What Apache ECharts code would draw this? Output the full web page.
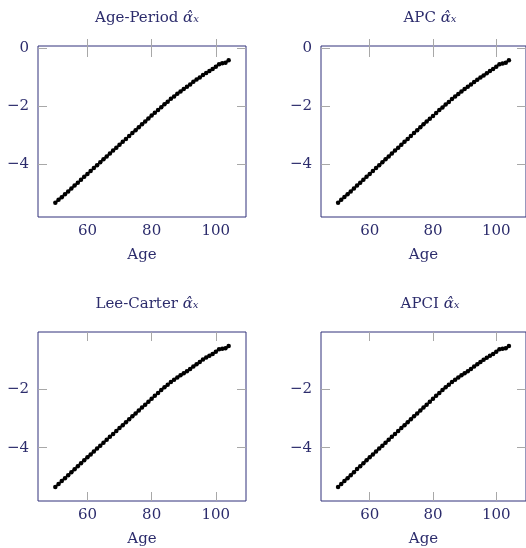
<!DOCTYPE html>
<html>
<head>
<meta charset="utf-8">
<script src="https://cdn.jsdelivr.net/npm/echarts@6/dist/echarts.min.js"></script>
<style>
html,body{margin:0;padding:0;background:#fff;}
#c{width:526px;height:548px;}
</style>
</head>
<body>
<div id="c"></div>
<script>
// ---- data ----
const ages = [50,51,52,53,54,55,56,57,58,59,60,61,62,63,64,65,66,67,68,69,70,71,72,73,74,75,76,77,78,79,80,81,82,83,84,85,86,87,88,89,90,91,92,93,94,95,96,97,98,99,100,101,102,103,104];

const ageperiodAlpha = [-5.31,-5.21,-5.12,-5.02,-4.92,-4.82,-4.72,-4.62,-4.52,-4.42,
  -4.32,-4.22,-4.12,-4.02,-3.92,-3.82,-3.72,-3.62,-3.52,-3.42,
  -3.32,-3.22,-3.12,-3.02,-2.92,-2.82,-2.72,-2.62,-2.52,-2.42,
  -2.32,-2.22,-2.13,-2.03,-1.93,-1.84,-1.74,-1.66,-1.57,-1.49,
  -1.41,-1.33,-1.25,-1.16,-1.08,-1.01,-0.93,-0.86,-0.79,-0.72,
  -0.64,-0.56,-0.52,-0.51,-0.42];

const apcAlpha = [-5.31,-5.21,-5.11,-5.02,-4.92,-4.82,-4.72,-4.62,-4.52,-4.42,
  -4.32,-4.22,-4.12,-4.02,-3.92,-3.82,-3.72,-3.62,-3.52,-3.42,
  -3.32,-3.22,-3.12,-3.02,-2.92,-2.82,-2.72,-2.62,-2.52,-2.43,
  -2.33,-2.23,-2.13,-2.04,-1.94,-1.85,-1.75,-1.66,-1.58,-1.49,
  -1.41,-1.33,-1.25,-1.17,-1.09,-1.01,-0.94,-0.87,-0.79,-0.72,
  -0.64,-0.56,-0.53,-0.51,-0.42];

const leecarterAlpha = [-5.34,-5.24,-5.14,-5.04,-4.94,-4.84,-4.74,-4.63,-4.53,-4.43,
  -4.33,-4.23,-4.13,-4.03,-3.93,-3.83,-3.73,-3.63,-3.53,-3.43,
  -3.33,-3.23,-3.13,-3.03,-2.93,-2.83,-2.73,-2.63,-2.53,-2.43,
  -2.33,-2.23,-2.13,-2.03,-1.94,-1.85,-1.76,-1.68,-1.60,-1.53,
  -1.46,-1.39,-1.31,-1.23,-1.15,-1.07,-0.99,-0.92,-0.86,-0.80,
  -0.72,-0.64,-0.62,-0.60,-0.53];

const apciAlpha = [-5.34,-5.24,-5.14,-5.04,-4.94,-4.84,-4.73,-4.63,-4.53,-4.43,
  -4.33,-4.23,-4.13,-4.03,-3.93,-3.83,-3.73,-3.63,-3.53,-3.43,
  -3.33,-3.23,-3.13,-3.03,-2.93,-2.83,-2.73,-2.63,-2.53,-2.43,
  -2.33,-2.23,-2.13,-2.03,-1.94,-1.85,-1.76,-1.68,-1.60,-1.53,
  -1.46,-1.39,-1.31,-1.23,-1.15,-1.07,-1.00,-0.93,-0.86,-0.80,
  -0.72,-0.64,-0.62,-0.60,-0.53];

const panelTitles = ['Age-Period', 'APC', 'Lee-Carter', 'APCI'];
const panelData = [ageperiodAlpha, apcAlpha, leecarterAlpha, apciAlpha];
const xTicks = [60, 80, 100];
const yTicks = [-4, -2, 0];
const xName = 'Age';

// ---- layout / style ----
const TXT = '#2c2c6c';
const BORDER = '#30307a';
const TICK = '#a8a8a8';
const FONT = 'DejaVu Serif';
const grids = [
  {left: 38, top: 46, width: 208, height: 171},
  {left: 321, top: 46, width: 208, height: 171},
  {left: 38, top: 332, width: 208, height: 171},
  {left: 321, top: 332, width: 208, height: 171}
];
const titleY = [5, 5, 291, 291];

function fmt(v){ return String(v).replace('-', '\u2212'); }

const option = {
  animation: false,
  backgroundColor: '#fff',
  title: [], grid: [], xAxis: [], yAxis: [], series: []
};

const xmin0 = Math.min(...ages), xmax0 = Math.max(...ages);
const xpad = (xmax0 - xmin0) * 0.1;

panelData.forEach((vals, i) => {
  const g = grids[i];
  option.grid.push(Object.assign({show: true, borderColor: BORDER, borderWidth: 1, backgroundColor: 'transparent'}, g));
  const ymin0 = Math.min(...vals), ymax0 = Math.max(...vals);
  const ypad = (ymax0 - ymin0) * 0.1;
  const ymin = ymin0 - ypad, ymax = ymax0 + ypad;
  const yt = yTicks.filter(t => t >= ymin && t <= ymax);
  option.title.push({
    text: '{n|' + panelTitles[i] + ' }{a|\u03B1\u0302}{s|\u2093}',
    left: g.left + g.width / 2,
    textAlign: 'center',
    top: titleY[i],
    textStyle: {
      fontWeight: 'normal',
      rich: {
        n: {fontFamily: FONT, fontSize: 15, fontWeight: 'normal', color: TXT},
        a: {fontFamily: FONT, fontSize: 15, fontWeight: 'normal', fontStyle: 'italic', color: TXT},
        s: {fontFamily: FONT, fontSize: 16, fontWeight: 'normal', fontStyle: 'italic', color: TXT}
      }
    }
  });
  const xCommon = {
    type: 'value', gridIndex: i, min: xmin0 - xpad, max: xmax0 + xpad,
    splitLine: {show: false}, axisLine: {show: false}
  };
  option.xAxis.push(Object.assign({}, xCommon, {
    position: 'bottom',
    name: xName, nameLocation: 'middle', nameGap: 31,
    nameTextStyle: {fontFamily: FONT, fontSize: 15, color: TXT},
    axisTick: {show: true, inside: true, length: 9, customValues: xTicks, lineStyle: {color: TICK, width: 1}},
    axisLabel: {show: true, margin: 7, customValues: xTicks, formatter: fmt, fontFamily: FONT, fontSize: 15, color: TXT}
  }));
  option.xAxis.push(Object.assign({}, xCommon, {
    position: 'top',
    axisTick: {show: true, inside: true, length: 9, customValues: xTicks, lineStyle: {color: TICK, width: 1}},
    axisLabel: {show: false}
  }));
  const yCommon = {
    type: 'value', gridIndex: i, min: ymin, max: ymax,
    splitLine: {show: false}, axisLine: {show: false}
  };
  option.yAxis.push(Object.assign({}, yCommon, {
    position: 'left',
    axisTick: {show: true, inside: true, length: 9, customValues: yt, lineStyle: {color: TICK, width: 1}},
    axisLabel: {show: true, margin: 9, customValues: yt, formatter: fmt, fontFamily: FONT, fontSize: 15, color: TXT}
  }));
  option.yAxis.push(Object.assign({}, yCommon, {
    position: 'right',
    axisTick: {show: true, inside: true, length: 9, customValues: yt, lineStyle: {color: TICK, width: 1}},
    axisLabel: {show: false}
  }));
  option.series.push({
    type: 'line',
    xAxisIndex: 2 * i, yAxisIndex: 2 * i,
    data: ages.map((a, k) => [a, vals[k]]),
    symbol: 'circle', symbolSize: 4.5, showSymbol: true,
    itemStyle: {color: '#000'},
    lineStyle: {color: '#000', width: 2},
    clip: false
  });
});

const chart = echarts.init(document.getElementById('c'), null, {renderer: 'canvas'});
chart.setOption(option);
</script>
</body>
</html>
